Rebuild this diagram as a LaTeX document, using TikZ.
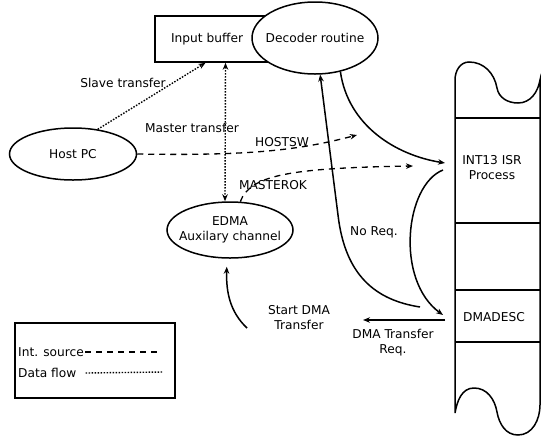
\documentclass[tikz,border=0pt]{standalone}
\usepackage{fontspec}
\setmainfont{DejaVu Sans}
\usepackage{tikz}
\usetikzlibrary{shapes.geometric}
\usetikzlibrary{arrows.meta}
\tikzstyle{proc}=[ellipse, draw=black, fill=white, line width=1.5pt, inner sep=0pt]
\tikzstyle{ctrl}=[draw=black, line width=1.5pt]
\tikzstyle{intsrc}=[draw=black, line width=1.3pt, dash pattern=on 6pt off 5pt]
\tikzstyle{dataflow}=[draw=black, line width=1.4pt, dash pattern=on 1.5pt off 1.5pt]

\begin{document}
\begin{tikzpicture}[x=1pt, y=-1pt, font=\fontsize{12.2}{15}\selectfont,
  >={Stealth[length=7pt,width=5.5pt]}]
\useasboundingbox (0,0) rectangle (546,437);
% buffer and the three routines
\node[draw, line width=1.5pt, text width=103pt, inner xsep=16pt, minimum height=46pt, align=left] (inbuf) at (222.5,39) {Input buffer};
\node[proc, minimum width=126pt, minimum height=72pt, label=center:{Decoder routine}] (decoder) at (315,38) {};
\node[proc, minimum width=127pt, minimum height=52pt, label=center:{Host PC}] (host) at (73,154) {};
\node[proc, minimum width=126pt, minimum height=56pt, label={[align=center]center:EDMA\\Auxilary channel}] (edma) at (230,230) {};
% interrupt table
\draw[line width=1.5pt] (455,413) -- (455,80) to[out=90,in=180] (469,62) to[out=0,in=100] (497,88)
  to[out=-80,in=180] (518,103) to[out=0,in=-100] (540,80) -- (540,405) to[out=-90,in=0] (518,435)
  to[out=180,in=-80] (497,412) to[out=100,in=0] (474,388) to[out=180,in=80] (455,413);
\foreach \y in {118,223,290,342}
  \draw[line width=1.4pt] (455,\y) -- (540,\y);
\node[align=center] (int13) at (492,168) {INT13 ISR\\Process};
\node (dmadesc) at (494,317) {DMADESC};
\coordinate (int13in) at (445,163);
\coordinate (int13out) at (443,170);
\coordinate (dmain) at (443,315);
\coordinate (dmaout) at (445,320);
\coordinate (dmareq) at (363,320);
\coordinate (noreq) at (420,307);
\coordinate (bend) at (338,215);
\coordinate (startdma) at (247,328);
\coordinate (hostsw) at (357,135);
\coordinate (masterok) at (413,166);
% data flow
\draw[dataflow,->] (host.45) -- ([xshift=-17pt]inbuf.south);
\draw[dataflow,<->] ([xshift=3pt]inbuf.south) -- ([xshift=-5pt]edma.north);
% interrupt sources
\draw[intsrc,->] (host.east) .. controls (250,156) and (300,150) .. (hostsw);
\draw[intsrc,->] (edma.70) .. controls (250,175) and (290,168) .. (masterok);
% control flow
\draw[ctrl,->] (decoder.-53) .. controls (348,125) and (395,155) .. (int13in);
\draw[ctrl,->] (int13out) .. controls (405,185) and (395,280) .. (dmain);
\draw[ctrl,->] (noreq) .. controls (375,300) and (345,275) .. (bend) -- (decoder.-82);
\draw[ctrl,->] (dmaout) -- (dmareq);
\draw[ctrl,->,shorten >=8pt] (startdma) .. controls (230,312) and (226,292) .. ([xshift=-3pt]edma.south);
% labels
\node (slavelbl) at (123,83) {Slave transfer};
\node (masterlbl) at (192,128) {Master transfer};
\node (hostswlbl) at (282,142) {HOSTSW};
\node (masteroklbl) at (273,185) {MASTEROK};
\node (noreqlbl) at (374,232) {No Req.};
\node[align=center] (startlbl) at (299,318) {Start DMA\\Transfer};
\node[align=center] (reqlbl) at (393,343) {DMA Transfer\\Req.};
% legend
\draw[line width=1.4pt] (15,323) rectangle (175,398);
\node[anchor=west, inner sep=1pt] (srclbl) at (17,352) {Int. source};
\node[anchor=west, inner sep=1pt] (flowlbl) at (17,373) {Data flow};
\coordinate (srcend) at (157,352);
\coordinate (flowend) at (163,372);
\draw[intsrc] (srclbl.east) -- (srcend);
\draw[dataflow] ([xshift=8pt]flowlbl.east) -- (flowend);
\end{tikzpicture}
\end{document}
